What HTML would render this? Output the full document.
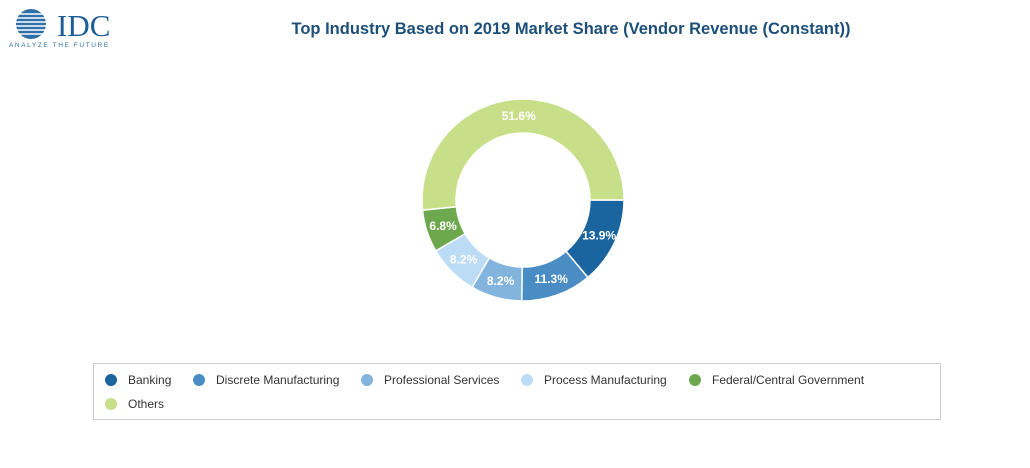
<!DOCTYPE html>
<html><head><meta charset="utf-8"><style>
body{margin:0;background:#fff;font-family:"Liberation Sans",Arial,sans-serif;}
#wrap{position:relative;width:1030px;height:468px;overflow:hidden;}
</style></head><body>
<div id="wrap">
<svg width="1030" height="468" id="svg">
 <g>
  <circle cx="31" cy="24" r="15" fill="#2e6fa8"/>
  <g stroke="#fff" stroke-width="1.6">
   <line x1="10" y1="14" x2="54" y2="14"/><line x1="10" y1="18" x2="54" y2="18"/><line x1="10" y1="22" x2="54" y2="22"/><line x1="10" y1="26" x2="54" y2="26"/><line x1="10" y1="30" x2="54" y2="30"/><line x1="10" y1="34" x2="54" y2="34"/>
  </g>
  <text x="57" y="36" font-family="Liberation Serif,serif" font-size="31" fill="#1d5d97">IDC</text>
  <text x="9" y="47" font-size="6.5" letter-spacing="1.6" fill="#2e6fa8">ANALYZE THE FUTURE</text>
 </g>
 <text x="571" y="34" text-anchor="middle" font-size="16.5" font-weight="bold" fill="#1d4f79">Top Industry Based on 2019 Market Share (Vendor Revenue (Constant))</text>
 <g id="slices"></g>
 <rect x="93.5" y="363.5" width="847" height="56" fill="#fff" stroke="#ccc"/>
 <g id="legend"></g>
</svg>
</div>
<script>
const categories=["Banking","Discrete Manufacturing","Professional Services","Process Manufacturing","Federal/Central Government","Others"];
const values=[13.9,11.3,8.2,8.2,6.8,51.6];
const colors=["#1a64a0","#4a8cc4","#82b4dd","#bcdcf5","#6ea84e","#c8df8a"];
const NS="http://www.w3.org/2000/svg";
const cx=523,cy=200,R=101,r=67,start=90;
const total=values.reduce((a,b)=>a+b,0);
function pt(a,rad){const t=(a-90)*Math.PI/180;return [cx+rad*Math.cos(t),cy+rad*Math.sin(t)];}
const g=document.getElementById('slices');
let a=start;
values.forEach((v,i)=>{
 const span=v/total*360,a2=a+span,large=span>180?1:0;
 const [x1,y1]=pt(a,R),[x2,y2]=pt(a2,R),[x3,y3]=pt(a2,r),[x4,y4]=pt(a,r);
 const p=document.createElementNS(NS,'path');
 p.setAttribute('d',`M${x1},${y1}A${R},${R} 0 ${large} 1 ${x2},${y2}L${x3},${y3}A${r},${r} 0 ${large} 0 ${x4},${y4}Z`);
 p.setAttribute('fill',colors[i]);p.setAttribute('stroke','#fff');p.setAttribute('stroke-width','1.5');
 
 
 g.appendChild(p);
 const [lx,ly]=pt(a+span/2,(R+r)/2);
 const t=document.createElementNS(NS,'text');
 t.setAttribute('x',lx);t.setAttribute('y',ly+4);t.setAttribute('text-anchor','middle');
 t.setAttribute('font-size','12');t.setAttribute('font-weight','bold');t.setAttribute('fill','#fff');
 t.textContent=v.toFixed(1)+'%';
 
 
 g.appendChild(t);
 a=a2;
});
const lg=document.getElementById('legend');
const lx=[111,199,367,527,695,111],ly=[380,380,380,380,380,404];
categories.forEach((c,i)=>{
 const e=document.createElementNS(NS,'g');
 
 
 const ci=document.createElementNS(NS,'circle');
 ci.setAttribute('cx',lx[i]);ci.setAttribute('cy',ly[i]);ci.setAttribute('r','6');ci.setAttribute('fill',colors[i]);
 const t=document.createElementNS(NS,'text');
 t.setAttribute('x',lx[i]+17);t.setAttribute('y',ly[i]+4);t.setAttribute('font-size','12');t.setAttribute('fill','#333');
 t.textContent=c;
 e.appendChild(ci);e.appendChild(t);lg.appendChild(e);
});
</script>
</body></html>
